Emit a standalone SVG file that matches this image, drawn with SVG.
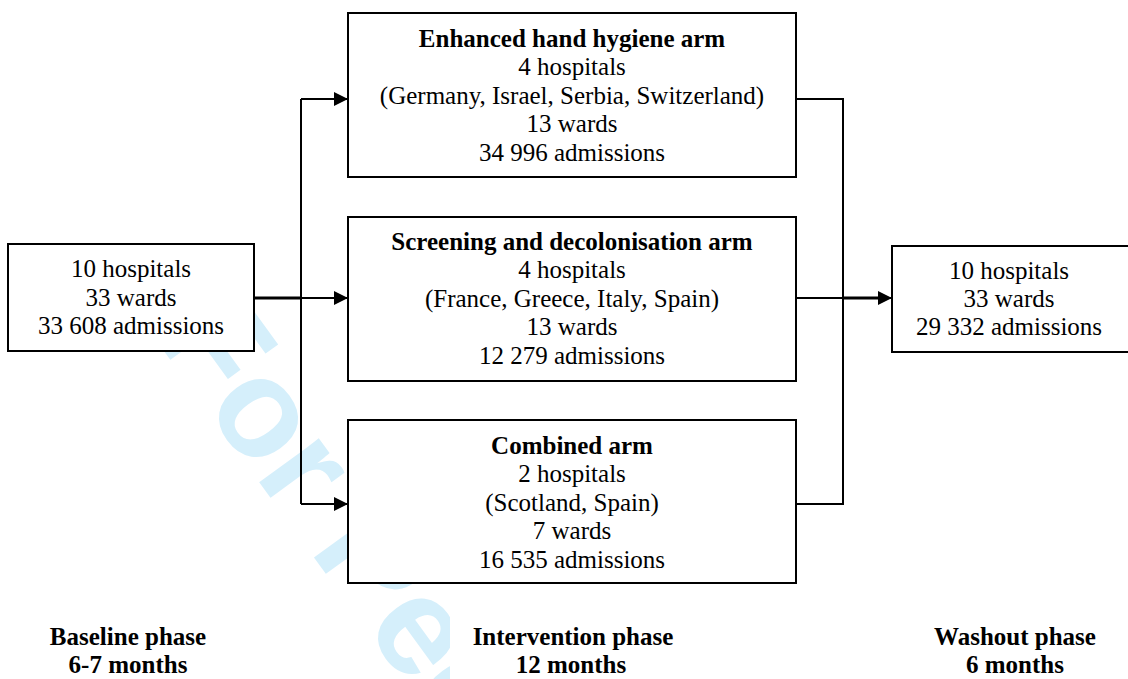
<svg xmlns="http://www.w3.org/2000/svg" width="1128" height="679" viewBox="0 0 1128 679">
<defs>
<style>
.box{fill:#fff;stroke:#000;stroke-width:2}
.ln{fill:none;stroke:#000;stroke-width:2}
.thk{fill:none;stroke:#000;stroke-width:3}
.t{font-family:"Liberation Serif","Times New Roman",serif;font-size:25px;text-anchor:middle;fill:#000}
.b{font-weight:bold}
.wm{font-family:"Liberation Sans",Arial,sans-serif;font-weight:bold;font-size:140px;fill:#d5effb}
</style>
<marker id="ah" markerWidth="14" markerHeight="14" refX="14" refY="7" orient="auto" markerUnits="userSpaceOnUse">
<path d="M0,0 L14,7 L0,14 Z" fill="#000"/>
</marker>
</defs>
<rect width="1128" height="679" fill="#fff"/>
<text class="wm" transform="translate(153,336) rotate(54)">For Pee</text>
<g id="connectors">
<path class="thk" d="M254,298 H301"/>
<path class="ln" d="M301,298 H348" marker-end="url(#ah)"/>
<path class="ln" d="M301,99 V504"/>
<path class="ln" d="M301,99 H348" marker-end="url(#ah)"/>
<path class="ln" d="M301,504 H348" marker-end="url(#ah)"/>
<path class="ln" d="M796,99 H843 V504 H796"/>
<path class="ln" d="M796,298 H843"/>
<path class="thk" d="M843,298 H878"/>
<path class="ln" d="M876,298 H892" marker-end="url(#ah)"/>
</g>
<g id="baseline">
<rect class="box" x="8" y="244" width="246" height="107"/>
<text class="t" x="131" y="277">10 hospitals</text>
<text class="t" x="131" y="306">33 wards</text>
<text class="t" x="131" y="334">33 608 admissions</text>
</g>
<g id="enhanced">
<rect class="box" x="348" y="13" width="448" height="164"/>
<text class="t b" x="572" y="47">Enhanced hand hygiene arm</text>
<text class="t" x="572" y="75">4 hospitals</text>
<text class="t" x="572" y="104">(Germany, Israel, Serbia, Switzerland)</text>
<text class="t" x="572" y="132">13 wards</text>
<text class="t" x="572" y="161">34 996 admissions</text>
</g>
<g id="screening">
<rect class="box" x="348" y="217" width="448" height="164"/>
<text class="t b" x="572" y="250">Screening and decolonisation arm</text>
<text class="t" x="572" y="278">4 hospitals</text>
<text class="t" x="572" y="307">(France, Greece, Italy, Spain)</text>
<text class="t" x="572" y="335">13 wards</text>
<text class="t" x="572" y="364">12 279 admissions</text>
</g>
<g id="combined">
<rect class="box" x="348" y="420" width="448" height="163"/>
<text class="t b" x="572" y="454">Combined arm</text>
<text class="t" x="572" y="482">2 hospitals</text>
<text class="t" x="572" y="511">(Scotland, Spain)</text>
<text class="t" x="572" y="539">7 wards</text>
<text class="t" x="572" y="568">16 535 admissions</text>
</g>
<g id="washout">
<rect class="box" x="892" y="246" width="240" height="106"/>
<text class="t" x="1009" y="279">10 hospitals</text>
<text class="t" x="1009" y="307">33 wards</text>
<text class="t" x="1009" y="335">29 332 admissions</text>
</g>
<g id="phases">
<text class="t b" x="128" y="645">Baseline phase</text>
<text class="t b" x="128" y="673">6-7 months</text>
<rect x="450" y="610" width="250" height="69" fill="#fff"/>
<text class="t b" x="573" y="645">Intervention phase</text>
<text class="t b" x="571" y="673">12 months</text>
<text class="t b" x="1015" y="645">Washout phase</text>
<text class="t b" x="1015" y="673">6 months</text>
</g>
</svg>
